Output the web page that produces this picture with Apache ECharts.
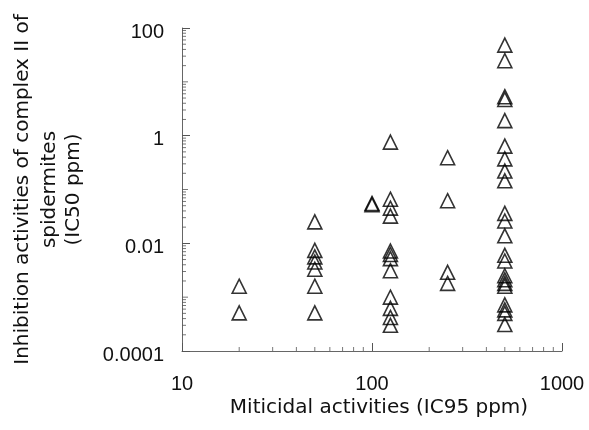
<!DOCTYPE html>
<html lang="en">
<head>
    <meta charset="UTF-8">
    <title>Miticidal vs complex II inhibition</title>
    <script type="text/javascript" src="https://cdn.jsdelivr.net/npm/echarts@6/dist/echarts.min.js"></script>
    <style>
        html, body { margin: 0; padding: 0; background: #fff; }
    </style>
</head>
<body>
    <div id="main" style="width:589px;height:430px;"></div>
</body>
<script type="text/javascript">
    // IC95 columns (x) and the IC50 values (y)
    var xLevels = [20, 50, 100, 125, 250, 500];
    var yAt20 = [0.0016, 0.00051];
    var yAt50 = [0.025, 0.0074, 0.0056, 0.0045, 0.0033, 0.0016, 0.00051];
    var yAt100 = [0.055, 0.052];
    var yAt125 = [0.76, 0.066, 0.045, 0.032, 0.0072, 0.0062, 0.0052, 0.0031, 0.001, 0.00062, 0.00042, 0.0003];
    var yAt250 = [0.39, 0.062, 0.0029, 0.0018];
    var yAt500 = [48, 24.7, 5.3, 4.7, 1.9, 0.64, 0.37, 0.22, 0.145, 0.036, 0.026, 0.0138,
        0.006, 0.0047, 0.0025, 0.0021, 0.0018, 0.0016, 0.00072, 0.00058, 0.0005, 0.00031];

    // axis ticks
    var xTickLabels = [10, 100, 1000];
    var yTickLabels = [0.0001, 0.01, 1, 100];
    var minorSteps = [2, 3, 4, 5, 6, 7, 8, 9];
    var xDecades = [10, 100];
    var yDecades = [0.0001, 0.001, 0.01, 0.1, 1, 10];
    var yMidDecades = [0.001, 0.1, 10];

    var columns = [yAt20, yAt50, yAt100, yAt125, yAt250, yAt500];
    var points = [];
    for (var i = 0; i < xLevels.length; i++) {
        for (var j = 0; j < columns[i].length; j++) {
            points.push([xLevels[i], columns[i][j]]);
        }
    }

    var yMinor = [], xMinor = [];
    yDecades.forEach(function (d) {
        minorSteps.forEach(function (s) { yMinor.push([10, d * s]); });
    });
    xDecades.forEach(function (d) {
        minorSteps.forEach(function (s) { xMinor.push([d * s, 0.0001]); });
    });
    var yMid = yMidDecades.map(function (v) { return [10, v]; });

    var titleFont = '"DejaVu Sans", "Liberation Sans", sans-serif';
    var numFont = '"Liberation Sans", Arial, sans-serif';
    var tickColor = '#555';

    var chart = echarts.init(document.getElementById('main'));
    chart.setOption({
        animation: false,
        backgroundColor: '#fff',
        grid: { left: 181, right: 27, top: 28, bottom: 79 },
        xAxis: {
            type: 'log',
            logBase: 10,
            min: 10,
            max: 1000,
            interval: 1,
            name: 'Miticidal activities (IC95 ppm)',
            nameLocation: 'middle',
            nameGap: 47,
            nameMoveOverlap: false,
            nameTextStyle: { fontFamily: titleFont, fontSize: 20, color: '#111', padding: [0, 0, 0, 14] },
            axisLine: { lineStyle: { color: '#666', width: 1 } },
            axisTick: { inside: true, length: 8, lineStyle: { color: tickColor } },
            axisLabel: {
                margin: 23,
                fontFamily: numFont,
                fontSize: 20,
                color: '#111',
                formatter: function (v) {
                    var hit = xTickLabels.filter(function (t) { return Math.abs(t - v) / t < 1e-6; });
                    return hit.length ? String(hit[0]) : '';
                }
            },
            splitLine: { show: false }
        },
        yAxis: {
            type: 'log',
            logBase: 10,
            min: 0.0001,
            max: 100,
            interval: 2,
            name: '{a|Inhibition activities of complex II of}\n{b|spidermites}\n{b|(IC50 ppm)}',
            nameLocation: 'middle',
            nameGap: 96,
            nameMoveOverlap: false,
            nameTextStyle: {
                fontFamily: titleFont,
                fontSize: 20,
                lineHeight: 24,
                color: '#111',
                align: 'center',
                rich: {
                    a: { fontFamily: titleFont, fontSize: 20, color: '#111', lineHeight: 30 },
                    b: { fontFamily: titleFont, fontSize: 20, color: '#111', lineHeight: 24 }
                }
            },
            axisLine: { show: true, lineStyle: { color: '#666', width: 1 } },
            axisTick: { show: true, inside: true, length: 8, lineStyle: { color: tickColor } },
            axisLabel: {
                margin: 18,
                fontFamily: numFont,
                fontSize: 20,
                color: '#111',
                verticalAlign: 'top',
                lineHeight: 8,
                formatter: function (v) {
                    var hit = yTickLabels.filter(function (t) { return Math.abs(t - v) / t < 1e-6; });
                    return hit.length ? String(hit[0]) : '';
                }
            },
            splitLine: { show: false }
        },
        series: [
            {
                name: 'y minor ticks',
                type: 'scatter',
                silent: true,
                clip: false,
                symbol: 'rect',
                symbolSize: [4, 1],
                symbolOffset: [2, 0],
                itemStyle: { color: tickColor },
                data: yMinor
            },
            {
                name: 'y decade ticks',
                type: 'scatter',
                silent: true,
                clip: false,
                symbol: 'rect',
                symbolSize: [6, 1],
                symbolOffset: [3, 0],
                itemStyle: { color: tickColor },
                data: yMid
            },
            {
                name: 'x minor ticks',
                type: 'scatter',
                silent: true,
                clip: false,
                symbol: 'rect',
                symbolSize: [1, 4],
                symbolOffset: [0, -2],
                itemStyle: { color: tickColor },
                data: xMinor
            },
            {
                name: 'compounds',
                type: 'scatter',
                clip: false,
                symbol: 'triangle',
                symbolSize: 14,
                itemStyle: {
                    color: 'rgba(255,255,255,0)',
                    borderColor: '#000',
                    borderWidth: 1.6
                },
                data: points
            }
        ]
    });
</script>
</html>
